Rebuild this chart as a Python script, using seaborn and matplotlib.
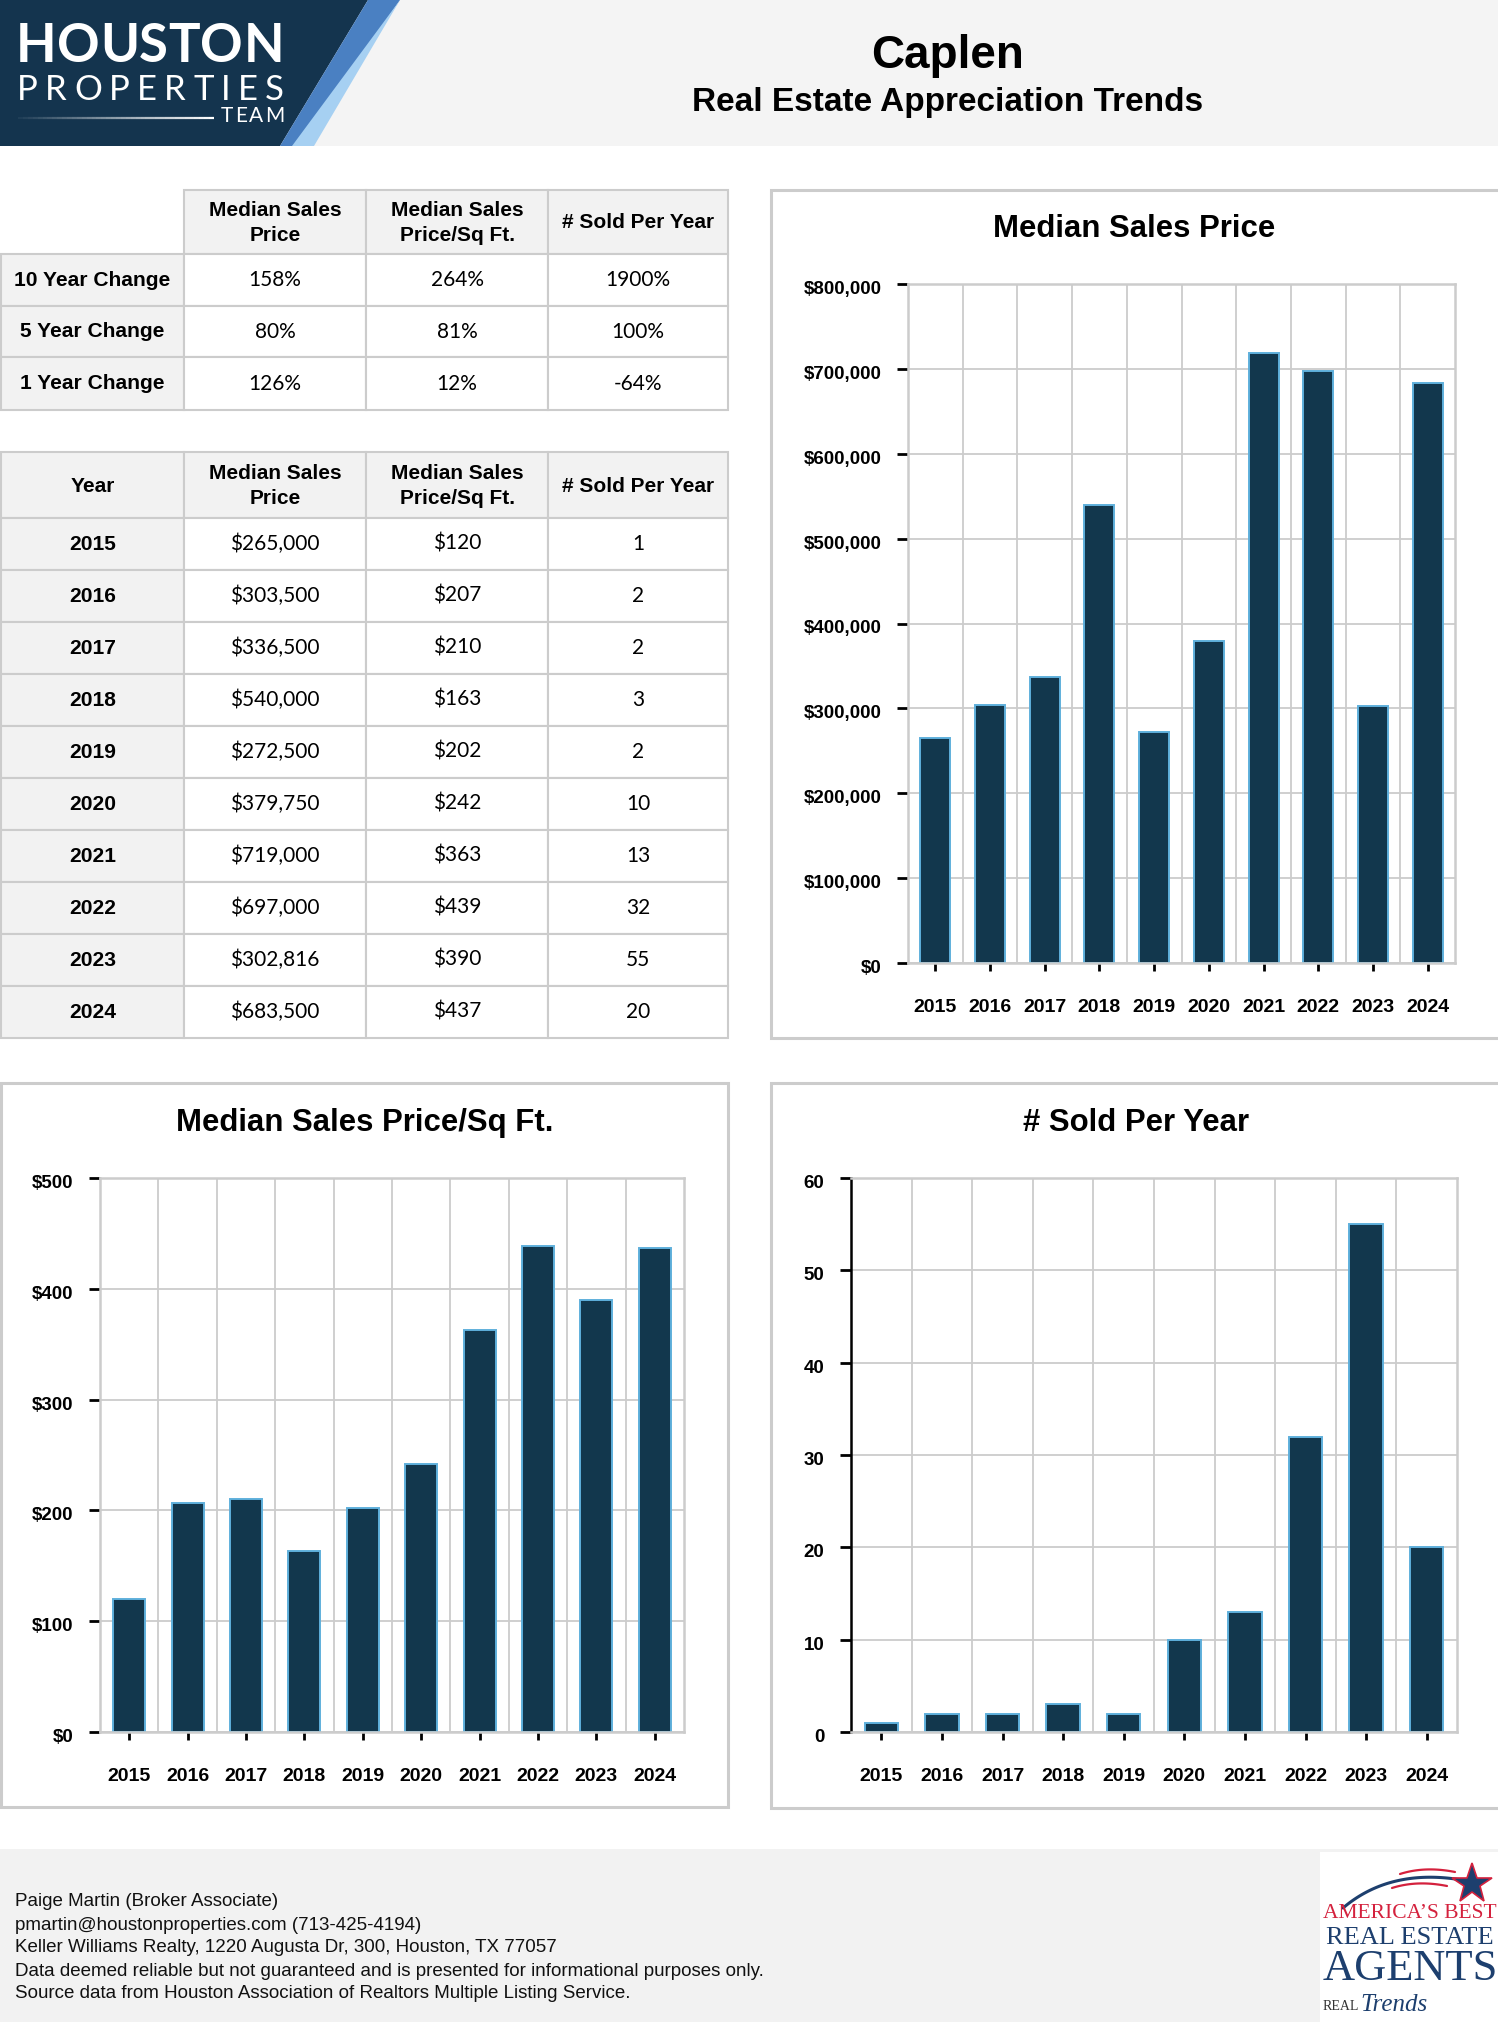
import numpy as np
import pandas as pd
import matplotlib
matplotlib.use("Agg")
import matplotlib.pyplot as plt
import seaborn as sns
from matplotlib import font_manager as fm
from matplotlib.patches import Rectangle, Polygon
from matplotlib.collections import LineCollection
from matplotlib.ticker import FuncFormatter, MultipleLocator, FixedLocator
from matplotlib.transforms import ScaledTranslation

# ---------------- data ----------------
years = [2015, 2016, 2017, 2018, 2019, 2020, 2021, 2022, 2023, 2024]
median_price = [265000, 303500, 336500, 540000, 272500, 379750, 719000, 697000, 302816, 683500]
price_per_sqft = [120, 207, 210, 163, 202, 242, 363, 439, 390, 437]
sold_per_year = [1, 2, 2, 3, 2, 10, 13, 32, 55, 20]

change_labels = ["10 Year Change", "5 Year Change", "1 Year Change"]
change_price = ["158%", "80%", "126%"]
change_sqft = ["264%", "81%", "12%"]
change_sold = ["1900%", "100%", "-64%"]

table_headers = ["Median Sales\nPrice", "Median Sales\nPrice/Sq Ft.", "# Sold Per Year"]
chart_titles = ["Median Sales Price", "Median Sales Price/Sq Ft.", "# Sold Per Year"]
page_title = "Caplen"
page_subtitle = "Real Estate Appreciation Trends"
footer_lines = [
    "Paige Martin (Broker Associate)",
    "pmartin@houstonproperties.com (713-425-4194)",
    "Keller Williams Realty, 1220 Augusta Dr, 300, Houston, TX 77057",
    "Data deemed reliable but not guaranteed and is presented for informational purposes only.",
    "Source data from Houston Association of Realtors Multiple Listing Service.",
]

# ---------------- style ----------------
sns.set_theme(style="white")
plt.rcParams["font.family"] = ["Liberation Sans", "DejaVu Sans"]
plt.rcParams["text.color"] = "black"

names = {f.name for f in fm.fontManager.ttflist}
NARROW = "Liberation Sans Narrow" in names
COND = "Liberation Sans Narrow" if NARROW else "Liberation Sans"
K = 1.0 if NARROW else 0.82
VALFONT = "Lato" if "Lato" in names else "Liberation Sans"

NAVY = "#12374d"
EDGE = "#5fb0dc"
GRID = "#cccccc"
CELL = "#f2f2f2"
LOGO_NAVY = "#14344e"

W, H = 1498, 2022
fig = plt.figure(figsize=(W / 100, H / 100), dpi=100)
fig.patch.set_facecolor("white")
bg = fig.add_axes([0, 0, 1, 1])
bg.set_xlim(0, W)
bg.set_ylim(H, 0)
bg.axis("off")
bg.set_zorder(0)


def ax_rect(x0, y0, x1, y1):
    return [x0 / W, 1 - y1 / H, (x1 - x0) / W, (y1 - y0) / H]


# ---------------- header ----------------
bg.add_patch(Rectangle((0, 0), W, 146, facecolor="#f4f4f4", edgecolor="none"))
bg.add_patch(Polygon([(0, 0), (368, 0), (280, 146), (0, 146)], closed=True,
                     facecolor=LOGO_NAVY, edgecolor="none"))
bg.add_patch(Polygon([(368, 0), (400, 0), (300, 146), (280, 146)], closed=True,
                     facecolor="#4a80c2", edgecolor="none"))
bg.add_patch(Polygon([(400, 0), (314, 146), (292, 146)], closed=True,
                     facecolor="#a6d0f2", edgecolor="none"))

renderer = fig.canvas.get_renderer()


def spaced_text(s, x0, x1, y, **kw):
    widths = []
    for ch in s:
        t = bg.text(0, 0, ch, **kw)
        widths.append(t.get_window_extent(renderer).width)
        t.remove()
    gap = ((x1 - x0) - sum(widths)) / max(len(s) - 1, 1)
    x = x0
    for ch, w in zip(s, widths):
        bg.text(x, y, ch, ha="left", va="center", **kw)
        x += w + gap


spaced_text("HOUSTON", 16, 284, 46, color="white", fontsize=38, fontweight="bold",
            family=["Lato", "DejaVu Sans"])
spaced_text("PROPERTIES", 17, 284, 90, color="white", fontsize=25,
            family=["Lato", "DejaVu Sans"])
spaced_text("TEAM", 221, 284, 116, color="white", fontsize=15,
            family=["Lato", "DejaVu Sans"])
xs = np.linspace(18, 214, 41)
segs = [[(xs[i], 118), (xs[i + 1], 118)] for i in range(40)]
alphas = np.linspace(0.05, 1, 40)
bg.add_collection(LineCollection(segs, colors=[(1, 1, 1, a) for a in alphas], linewidths=1.6))

bg.text(948, 56, page_title, fontsize=33, fontweight="bold", ha="center", va="center")
bg.text(948, 103, page_subtitle, fontsize=24, fontweight="bold", ha="center", va="center")

# ---------------- tables ----------------
col_x = [1, 184, 366, 548, 728]
LW = 1.5


def cell(x0, y0, x1, y1, fill=None):
    bg.add_patch(Rectangle((x0, y0), x1 - x0, y1 - y0,
                           facecolor=fill if fill else "white",
                           edgecolor=GRID, linewidth=LW, zorder=1))


def header_text(x, y, s):
    bg.text(x, y + 1, s, fontsize=18.3 * K, fontweight="bold", family=[COND, "DejaVu Sans"],
            ha="center", va="center", linespacing=1.38, zorder=3)


def label_text(x, y, s):
    bg.text(x, y, s, fontsize=18.4 * K, fontweight="bold", family=[COND, "DejaVu Sans"],
            ha="center", va="center", zorder=3)


def value_text(x, y, s):
    bg.text(x, y, s, fontsize=15, family=[VALFONT, "DejaVu Sans"],
            ha="center", va="center", zorder=3)


# Table 1
t1_rows = [190, 254, 306, 357, 410]
for c in range(1, 4):
    cell(col_x[c], t1_rows[0], col_x[c + 1], t1_rows[1], CELL)
    header_text((col_x[c] + col_x[c + 1]) / 2, (t1_rows[0] + t1_rows[1]) / 2, table_headers[c - 1])
cols_vals = [change_price, change_sqft, change_sold]
for r in range(3):
    y0, y1 = t1_rows[r + 1], t1_rows[r + 2]
    cell(col_x[0], y0, col_x[1], y1, CELL)
    label_text((col_x[0] + col_x[1]) / 2, (y0 + y1) / 2, change_labels[r])
    for c in range(3):
        cell(col_x[c + 1], y0, col_x[c + 2], y1)
        value_text((col_x[c + 1] + col_x[c + 2]) / 2, (y0 + y1) / 2, cols_vals[c][r])

# Table 2
t2_rows = [452, 518] + [518 + 52 * (i + 1) for i in range(10)]
cell(col_x[0], t2_rows[0], col_x[1], t2_rows[1], CELL)
header_text((col_x[0] + col_x[1]) / 2, (t2_rows[0] + t2_rows[1]) / 2, "Year")
for c in range(1, 4):
    cell(col_x[c], t2_rows[0], col_x[c + 1], t2_rows[1], CELL)
    header_text((col_x[c] + col_x[c + 1]) / 2, (t2_rows[0] + t2_rows[1]) / 2, table_headers[c - 1])
for r, yr in enumerate(years):
    y0, y1 = t2_rows[r + 1], t2_rows[r + 2]
    yc = (y0 + y1) / 2
    cell(col_x[0], y0, col_x[1], y1, CELL)
    label_text((col_x[0] + col_x[1]) / 2, yc, str(yr))
    vals = [f"${median_price[r]:,}", f"${price_per_sqft[r]}", f"{sold_per_year[r]}"]
    for c in range(3):
        cell(col_x[c + 1], y0, col_x[c + 2], y1)
        value_text((col_x[c + 1] + col_x[c + 2]) / 2, yc, vals[c])

# ---------------- chart panels ----------------
panels = [(771, 190, 1502, 1038), (1, 1083, 728, 1807), (771, 1083, 1502, 1808)]
for (x0, y0, x1, y1) in panels:
    bg.add_patch(Rectangle((x0, y0), x1 - x0, y1 - y0, facecolor="white",
                           edgecolor=GRID, linewidth=2.2, zorder=0.5))

title_pos = [(1134, 229), (365, 1123), (1136, 1123)]
for (x, y), s in zip(title_pos, chart_titles):
    bg.text(x, y, s, fontsize=27.3 * K, fontweight="bold", family=[COND, "DejaVu Sans"],
            ha="center", va="center")

year_labels = [str(y) for y in years]
label_shift = ScaledTranslation(0, -0.035, fig.dpi_scale_trans)


def bar_chart(rect, values, ymax, step, fmt, left_color):
    ax = fig.add_axes(ax_rect(*rect))
    df = pd.DataFrame({"year": year_labels, "value": values})
    sns.barplot(data=df, x="year", y="value", ax=ax, color=NAVY, saturation=1,
                edgecolor=EDGE, linewidth=1.4, width=0.55, errorbar=None)
    ax.set_xlim(-0.5, len(values) - 0.5)
    ax.set_ylim(0, ymax)
    ax.yaxis.set_major_locator(MultipleLocator(step))
    ax.yaxis.set_major_formatter(FuncFormatter(fmt))
    ax.xaxis.set_minor_locator(FixedLocator(np.arange(0.5, len(values) - 0.5, 1)))
    ax.set_axisbelow(True)
    ax.grid(False)
    ax.grid(True, axis="y", which="major", color=GRID, linewidth=1.3)
    ax.grid(True, axis="x", which="minor", color=GRID, linewidth=1.3)
    ax.set_xlabel("")
    ax.set_ylabel("")
    for s in ["top", "right", "bottom"]:
        ax.spines[s].set_visible(True)
        ax.spines[s].set_color(GRID)
        ax.spines[s].set_linewidth(1.8)
    ax.spines["left"].set_visible(True)
    ax.spines["left"].set_color(left_color)
    ax.spines["left"].set_linewidth(1.8)
    ax.tick_params(axis="y", which="major", left=True, length=8, width=2, color="black",
                   pad=11, labelsize=13.5, direction="out", labelcolor="black")
    ax.tick_params(axis="x", which="major", bottom=True, length=6, width=2, color="black",
                   pad=20, labelsize=14, direction="out", labelcolor="black")
    ax.tick_params(axis="x", which="minor", bottom=False, length=0)
    for lab in ax.get_xticklabels():
        lab.set_fontweight("bold")
    for lab in ax.get_yticklabels():
        lab.set_fontweight("bold")
        lab.set_transform(lab.get_transform() + label_shift)
    ax.set_facecolor("white")
    return ax


bar_chart((908, 284, 1455, 963), median_price, 800000, 100000,
          lambda v, p: f"${int(v):,}", GRID)
bar_chart((100, 1178, 684, 1732), price_per_sqft, 500, 100,
          lambda v, p: f"${int(v)}", GRID)
bar_chart((851, 1178, 1457, 1732), sold_per_year, 60, 10,
          lambda v, p: f"{int(v)}", "black")

# ---------------- footer ----------------
bg.add_patch(Rectangle((0, 1849), W, H - 1849, facecolor="#f2f2f2", edgecolor="none"))
for i, line in enumerate(footer_lines):
    bg.text(15, 1902 + 23 * i, line, fontsize=16.5 * K, family=[COND, "DejaVu Sans"],
            ha="left", va="center", color="#111111")

# award logo
bg.add_patch(Rectangle((1320, 1852), W - 1320, H - 1852, facecolor="white", edgecolor="none"))
tt = np.linspace(0, 1, 50)
sx = (1-tt)**2 * 1343 + 2*(1-tt)*tt * 1390 + tt**2 * 1462
sy = (1-tt)**2 * 1908 + 2*(1-tt)*tt * 1868 + tt**2 * 1880
bg.plot(sx, sy, color="#1d3f6e", linewidth=2.2, solid_capstyle="round")
rx = (1-tt)**2 * 1400 + 2*(1-tt)*tt * 1425 + tt**2 * 1455
ry = (1-tt)**2 * 1874 + 2*(1-tt)*tt * 1866 + tt**2 * 1872
bg.plot(rx, ry, color="#d4213d", linewidth=1.6)
bg.plot(rx - 8, ry + 14, color="#d4213d", linewidth=1.6)
bg.plot([1472], [1884], marker="*", markersize=30, color="#1d3f6e",
        markeredgecolor="#d4213d", markeredgewidth=1.2)
bg.text(1410, 1913, "AMERICA’S BEST", color="#d4213d", fontsize=15.5,
        family=["Liberation Serif", "DejaVu Serif"], ha="center", va="center")
bg.text(1410, 1938, "REAL ESTATE", color="#1d3f6e", fontsize=19,
        family=["Liberation Serif", "DejaVu Serif"], ha="center", va="center")
bg.text(1410, 1969, "AGENTS", color="#1d3f6e", fontsize=32,
        family=["Liberation Serif", "DejaVu Serif"], ha="center", va="center")
bg.text(1323, 2007, "REAL", color="#333333", fontsize=10,
        family=["Liberation Serif", "DejaVu Serif"], ha="left", va="center")
bg.text(1360, 2005, "Trends", color="#1d3f6e", fontsize=18, style="italic",
        family=["Liberation Serif", "DejaVu Serif"], ha="left", va="center")

fig.savefig("out.png", dpi=100, facecolor="white")
